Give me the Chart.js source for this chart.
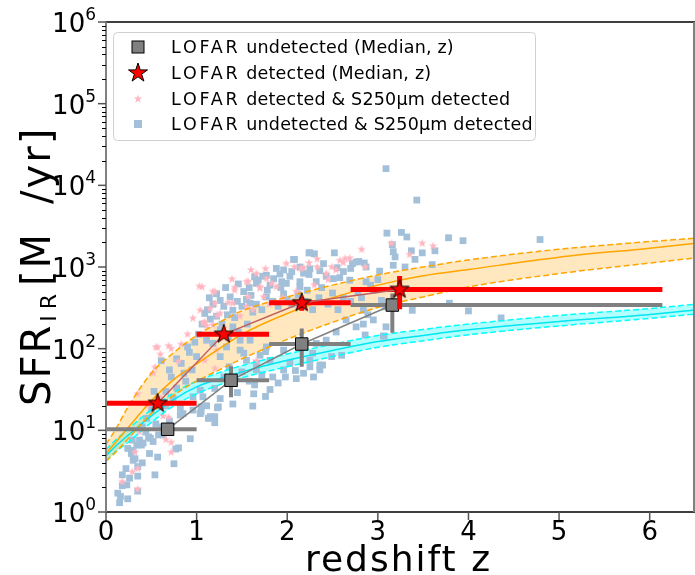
<!DOCTYPE html>
<html>
<head>
<meta charset="utf-8">
<script src="https://cdn.jsdelivr.net/npm/chart.js@4"></script>
<style>
  body { margin: 0; background: #fff; }
  canvas { display: block; }
</style>
</head>
<body>
<canvas id="sfrChart" width="695" height="575"></canvas>
<script>
// selection curves (redshift grid + SFR at each point)
const curveZ    = [0, 0.1, 0.25, 0.5, 0.75, 1, 1.25, 1.5, 2, 2.5, 3, 3.5, 4, 5, 6, 6.5];
const orangeHi  = [6.8, 10, 20, 50, 90, 145, 210, 290, 430, 600, 800, 1000, 1220, 1650, 2050, 2250];
const orangeMid = [5.2, 7, 11, 23, 42, 65, 100, 150, 270, 420, 600, 780, 930, 1320, 1700, 1950];
const orangeLo  = [4.2, 5.3, 8, 16, 27, 40, 55, 75, 130, 210, 320, 430, 570, 830, 1120, 1290];
const cyanHi    = [5.8, 7.5, 10.5, 18, 29, 40, 51, 62, 86, 113, 145, 172, 200, 255, 310, 350];
const cyanMid   = [4.9, 6.3, 8.8, 15, 24, 34, 43, 52, 72, 95, 122, 145, 170, 215, 262, 298];
const cyanLo    = [4.2, 5.4, 7.2, 12.5, 20, 28, 36, 44, 60, 80, 104, 125, 148, 190, 235, 265];

// medians in redshift bins
const undetZ      = [0.68, 1.38, 2.16, 3.16];
const undetSFR    = [10.3, 41, 114, 342];
const undetZLo    = [0, 1.0, 1.8, 2.7];
const undetZHi    = [1.0, 1.8, 2.7, 6.14];
const undetSFRLo  = [9.2, 25.4, 60, 157];
const undetSFRHi  = [11.5, 61, 177, 475];

const detZ      = [0.57, 1.30, 2.16, 3.24];
const detSFR    = [21.4, 150, 365, 532];
const detZLo    = [0, 1.0, 1.8, 2.7];
const detZHi    = [1.0, 1.8, 2.7, 6.14];
const detSFRLo  = [19.5, 135, 291, 303];
const detSFRHi  = [23.5, 168, 425, 774];

// individual sources [z, SFR]
const undetS250 = [
  [0.15,1.3],[0.16,1.55],[0.24,1.45],[0.13,1.7],[0.18,2.1],[0.23,2.15],[0.18,2.85],[0.26,2.6],[0.35,2.75],[0.35,1.8],
  [0.54,2.85],[0.30,4.3],[0.35,3.6],[0.22,3.4],[0.40,4.0],[0.48,5.2],[0.29,7.6],[0.34,6.6],[0.39,6.6],[0.30,5.7],
  [0.24,6.0],[0.28,5.2],[0.32,4.5],[0.57,4.7],[0.75,3.9],[0.77,5.9],[0.80,6.1],[0.93,7.9],[0.37,7.6],[0.41,7.0],
  [0.49,8.0],[0.52,7.3],[0.47,8.3],[0.58,8.8],[0.63,8.8],[0.44,9.5],[0.55,12],[0.62,11],[0.70,13],[0.85,16],
  [0.82,18.6],[0.82,15.4],[0.96,17.7],[1.05,19.4],[1.05,16.8],[1.04,16],[1.11,20],[1.13,14],[1.15,14.7],[1.20,12.4],
  [1.20,14.7],[1.23,18.9],[1.24,19.4],[1.26,24.5],[1.40,21],[1.45,29],[1.62,19.8],[1.63,28],[1.76,26],[1.81,31.6],
  [0.96,25.7],[1.04,31],[1.07,25.7],[1.20,32.6],[0.78,33],[0.61,71],[0.83,66],[0.90,105],[0.72,45],[0.66,30],
  [0.88,40],[0.95,55],[1.0,80],[0.45,14],[0.50,18],[0.58,22],[0.66,20],[0.74,25],[0.40,11],[0.53,30],
  [0.70,55],[0.78,75],[0.86,50],[0.92,90],[0.98,120],[1.02,150],[1.06,200],
  [1.09,270],[1.15,230],[1.26,390],[1.30,330],[1.37,430],[1.45,380],[1.52,500],[1.60,450],[1.68,690],[1.77,790],
  [1.85,720],[1.96,920],[2.05,880],[2.14,1000],[2.25,950],[2.40,1100],[2.55,980],[2.87,1000],[3.17,1050],
  [1.40,295],[1.59,360],[1.77,430],[1.96,470],[2.14,570],[2.32,660],[2.51,720],[2.69,690],[2.87,660],[2.95,520],
  [3.04,390],[3.08,325],[2.84,295],[2.89,260],[2.65,225],[2.76,185],[2.95,225],[3.09,185],[2.43,127],[2.54,160],
  [2.32,116],[1.96,96],[1.77,105],[1.70,83],[1.81,72],[2.03,66],[2.25,60],[2.36,55],[1.96,55],[1.59,127],
  [1.48,96],[1.40,185],[1.26,170],[1.18,116],[1.11,127],[1.33,105],[1.55,72],[1.66,55],[1.84,45],[2.10,43],
  [2.29,45],[2.36,63],[2.49,80],[1.66,66],[1.52,88],[1.48,127],[1.76,92],[2.09,54],[2.18,50],[2.25,72],
  [2.39,63],[2.28,88],[2.60,83],[2.84,200],[2.86,147],[3.07,142],
  [1.66,630],[1.73,770],[1.88,960],[2.07,1240],[2.24,1490],[2.30,1450],[2.52,1490],[2.24,810],[2.43,770],[2.58,740],
  [2.72,1100],[2.79,1170],[2.85,1120],[2.70,960],[3.02,890],[2.03,770],[2.14,660],[1.81,600],[1.94,660],[1.99,630],
  [2.08,1240],[2.25,1490],[2.76,1150],
  [1.12,300],[1.18,350],[1.22,250],[1.28,200],[1.34,260],[1.42,240],[1.50,330],[1.55,400],[1.62,280],[1.66,350],
  [1.72,300],[1.78,520],[1.84,380],[1.90,330],[1.93,560],[2.00,400],[2.05,350],[2.12,460],[2.20,380],[2.22,520],
  [2.28,300],[2.35,420],[2.38,560],[2.45,350],[2.50,480],[2.56,300],[2.62,420],[2.70,380],[2.78,500],[2.82,420],
  [2.92,600],[3.00,700],
  [1.30,45],[1.36,60],[1.42,38],[1.50,52],[1.58,40],[1.64,36],[1.72,48],[1.90,38],[1.98,45],[1.26,80],
  [1.35,140],[1.46,160],[1.56,200],
  [1.14,420],[1.22,470],[1.32,560],[1.46,620],[1.58,560],[1.64,760],[1.92,820],[2.18,840],[2.36,900],[2.62,880],
  [3.09,16000],[3.43,6600],[3.10,2600],[3.26,2650],[3.32,2330],[3.78,2280],[3.94,2100],[4.79,2170],[3.16,1880],[3.17,1540],
  [3.37,1580],[3.49,1490],[3.63,1580],[3.41,1240],[3.30,1000],[3.60,1070],[3.19,1330],[3.79,360],[4.0,290],[4.36,238],
  [3.38,295],[3.06,143]
];

const detS250 = [
  [0.18,2.35],[0.29,3.1],[0.35,3.4],[0.35,1.9],[0.32,5.4],[0.72,5.4],[0.72,7.1],[0.66,7.7],[0.37,9.6],[0.63,15],
  [0.69,14.4],[0.35,28],[0.52,50],[0.54,59],[0.60,85],[0.57,104],[0.69,108],[0.83,113],[0.72,100],[0.55,104],
  [1.20,57],[1.66,71],[1.11,190],[1.03,580],[1.20,500],[1.39,710],[1.42,520],[1.60,920],[1.76,950],[1.35,365],
  [1.57,430],[1.70,550],[1.74,430],[1.83,630],[1.88,570],[1.20,360],[1.04,295],[1.09,212],[0.96,235],[1.23,255],
  [1.40,360],[1.18,195],[1.55,325],[1.99,1100],[2.18,980],[2.33,1250],[2.24,1120],[2.33,1000],[2.49,1000],[2.64,1270],
  [2.62,1130],[2.82,1640],[2.86,1000],[3.15,1950],[3.49,1950],[3.61,1800],[3.35,1420],[2.15,960],[2.08,1000],[2.43,830],
  [2.54,920],[1.77,720],[1.57,660],[1.66,830],[1.06,570],[1.18,500],[1.26,270],[1.15,310],[1.07,205],[1.09,72],
  [1.22,96],[2.69,1280],[2.58,1200],[1.42,560],[1.55,660],[1.70,570],[1.30,180],[1.48,250],[1.62,300],[1.80,350],
  [1.95,420],[2.10,500],[2.30,600],[2.45,700],[0.90,150],[0.80,70],[0.45,20],[0.60,25]
];

const xTicks = [0, 1, 2, 3, 4, 5, 6];
const yDecades = [0, 1, 2, 3, 4, 5, 6];

const legendLabels = [
  'LOFAR undetected (Median, z)',
  'LOFAR detected (Median, z)',
  'LOFAR detected & S250\u00b5m detected',
  'LOFAR undetected & S250\u00b5m detected'
];

const FONT = '"DejaVu Sans", sans-serif';

// filled 5-point star used as a point style
function makeStar(r, fill, stroke, lw) {
  const size = Math.ceil(2 * r + 2 * lw + 2);
  const c = document.createElement('canvas');
  c.width = c.height = size;
  const g = c.getContext('2d');
  g.translate(size / 2, size / 2);
  g.beginPath();
  for (let i = 0; i < 10; i++) {
    const rad = i % 2 === 0 ? r : r * 0.382;
    const a = -Math.PI / 2 + i * Math.PI / 5;
    g.lineTo(rad * Math.cos(a), rad * Math.sin(a));
  }
  g.closePath();
  g.fillStyle = fill;
  g.fill();
  if (stroke) {
    g.lineWidth = lw;
    g.strokeStyle = stroke;
    g.stroke();
  }
  return c;
}

const redStar = makeStar(10, '#ff0000', '#000000', 1);
const pinkStar = makeStar(4.6, '#ffb6c1', null, 0);

const pairs = (xs, ys) => xs.map((x, i) => ({ x: x, y: ys[i] }));
const points = arr => arr.map(p => ({ x: p[0], y: p[1] }));

function curve(ys, color, dashed, fillTarget, fillColor, order) {
  return {
    type: 'line',
    data: pairs(curveZ, ys),
    borderColor: color,
    borderWidth: 1.5,
    borderDash: dashed ? [6, 3] : [],
    pointRadius: 0,
    cubicInterpolationMode: 'monotone',
    fill: fillTarget,
    backgroundColor: fillColor || 'transparent',
    order: order
  };
}

// error bars drawn just before the median markers
const errorBarPlugin = {
  id: 'errorBars',
  beforeDatasetDraw(chart, args) {
    const ds = chart.data.datasets[args.index];
    if (!ds.errBars) return;
    const xs = chart.scales.x, ys = chart.scales.y, ctx = chart.ctx;
    const e = ds.errBars;
    ctx.save();
    ctx.strokeStyle = e.color;
    ctx.lineWidth = e.width;
    ctx.lineCap = 'butt';
    ds.data.forEach((p, i) => {
      const px = xs.getPixelForValue(p.x), py = ys.getPixelForValue(p.y);
      ctx.beginPath();
      ctx.moveTo(xs.getPixelForValue(e.xLo[i]), py);
      ctx.lineTo(xs.getPixelForValue(e.xHi[i]), py);
      ctx.moveTo(px, ys.getPixelForValue(e.yLo[i]));
      ctx.lineTo(px, ys.getPixelForValue(e.yHi[i]));
      ctx.stroke();
    });
    ctx.restore();
  }
};

// frame, ticks, axis titles and legend
const decorPlugin = {
  id: 'decor',
  afterDraw(chart) {
    const ctx = chart.ctx, a = chart.chartArea;
    const xs = chart.scales.x, ys = chart.scales.y;
    ctx.save();

    // frame
    ctx.lineWidth = 1.5;
    ctx.strokeStyle = '#000';
    ctx.beginPath();
    ctx.moveTo(a.left, a.top); ctx.lineTo(a.right, a.top);
    ctx.moveTo(a.left, a.bottom); ctx.lineTo(a.right, a.bottom);
    ctx.stroke();
    ctx.lineWidth = 2;
    ctx.strokeStyle = '#808080';
    ctx.beginPath();
    ctx.moveTo(a.left, a.top); ctx.lineTo(a.left, a.bottom);
    ctx.moveTo(a.right - 1, a.top); ctx.lineTo(a.right - 1, a.bottom);
    ctx.stroke();

    // x ticks + labels
    ctx.fillStyle = '#000';
    ctx.font = '26px ' + FONT;
    ctx.textAlign = 'center';
    ctx.textBaseline = 'top';
    xTicks.forEach(t => {
      const px = xs.getPixelForValue(t);
      ctx.strokeStyle = '#555';
      ctx.lineWidth = 1.5;
      ctx.beginPath();
      ctx.moveTo(px, a.bottom); ctx.lineTo(px, a.bottom + 8);
      ctx.stroke();
      ctx.fillText(String(t), px, a.bottom + 8);
    });

    // y ticks (major + minor) + labels 10^n
    yDecades.forEach(d => {
      const py = ys.getPixelForValue(Math.pow(10, d));
      ctx.strokeStyle = '#555';
      ctx.lineWidth = 1.5;
      ctx.beginPath();
      ctx.moveTo(a.left, py); ctx.lineTo(a.left - 8, py);
      ctx.stroke();
      if (d < 6) {
        ctx.strokeStyle = '#000';
        ctx.lineWidth = 1;
        for (let k = 2; k <= 9; k++) {
          const my = Math.round(ys.getPixelForValue(k * Math.pow(10, d))) + 0.5;
          ctx.beginPath();
          ctx.moveTo(a.left, my); ctx.lineTo(a.left - 4, my);
          ctx.stroke();
        }
      }
      ctx.font = '17px ' + FONT;
      const ew = ctx.measureText(String(d)).width;
      ctx.textAlign = 'left';
      ctx.textBaseline = 'alphabetic';
      ctx.fillText(String(d), a.left - 10 - ew, py - 2);
      ctx.font = '26px ' + FONT;
      ctx.textAlign = 'right';
      ctx.fillText('10', a.left - 10 - ew, py + 10);
    });

    // x title
    ctx.font = '36px ' + FONT;
    ctx.letterSpacing = '2px';
    ctx.textAlign = 'center';
    ctx.textBaseline = 'alphabetic';
    ctx.fillText('redshift z', (a.left + a.right) / 2 - 2, 571);

    // y title with subscript, reads bottom to top
    ctx.save();
    ctx.translate(50, 406);
    ctx.rotate(-Math.PI / 2);
    ctx.textAlign = 'left';
    ctx.font = '40px ' + FONT;
    ctx.letterSpacing = '2px';
    let cx = 0;
    ctx.fillText('SFR', cx, 0);
    cx += ctx.measureText('SFR').width + 2;
    ctx.font = '22px ' + FONT;
    ctx.letterSpacing = '6px';
    ctx.fillText('IR', cx, 6);
    cx += ctx.measureText('IR').width + 2;
    ctx.font = '40px ' + FONT;
    ctx.letterSpacing = '2px';
    ctx.fillText('[M', cx, 0);
    cx += ctx.measureText('[M').width + 28;
    ctx.fillText('/yr]', cx, 0);
    ctx.restore();

    // legend
    const lx = 113, ly = 32, lw = 422, lh = 108;
    ctx.letterSpacing = '0px';
    ctx.fillStyle = 'rgba(255,255,255,0.85)';
    ctx.strokeStyle = '#d0d0d0';
    ctx.lineWidth = 1;
    ctx.beginPath();
    ctx.roundRect(lx + 0.5, ly + 0.5, lw, lh, 4);
    ctx.fill();
    ctx.stroke();

    const rows = [47, 73, 99, 124];
    const mx = 138;
    ctx.fillStyle = '#808080';
    ctx.strokeStyle = '#000';
    ctx.fillRect(mx - 6, rows[0] - 6, 12, 12);
    ctx.strokeRect(mx - 6, rows[0] - 6, 12, 12);
    ctx.drawImage(redStar, mx - redStar.width / 2, rows[1] - redStar.height / 2);
    ctx.drawImage(pinkStar, mx - pinkStar.width / 2, rows[2] - pinkStar.height / 2);
    ctx.fillStyle = '#a2c0d9';
    ctx.fillRect(mx - 4, rows[3] - 4, 8, 8);

    ctx.fillStyle = '#000';
    ctx.font = '17.5px ' + FONT;
    ctx.textAlign = 'left';
    ctx.textBaseline = 'middle';
    legendLabels.forEach((t, i) => {
      ctx.letterSpacing = '2.8px';
      ctx.fillText('LOFAR', 171, rows[i] + 1);
      const w = ctx.measureText('LOFAR').width;
      ctx.letterSpacing = '0.2px';
      ctx.fillText(t.slice(5), 171 + w, rows[i] + 1);
    });
    ctx.restore();
  }
};

const ctx = document.getElementById('sfrChart').getContext('2d');
new Chart(ctx, {
  type: 'scatter',
  data: {
    datasets: [
      curve(orangeHi, '#ffa500', true, '+2', 'rgba(255,165,0,0.25)', 4),
      curve(orangeMid, '#ffa500', false, false, null, 4),
      curve(orangeLo, '#ffa500', true, false, null, 4),
      curve(cyanHi, '#00ffff', true, '+2', 'rgba(0,255,255,0.3)', 5),
      curve(cyanMid, '#00e5ee', false, false, null, 5),
      curve(cyanLo, '#00ffff', true, false, null, 5),
      {
        data: points(undetS250),
        pointStyle: 'rect',
        pointRadius: 4.8,
        pointBackgroundColor: '#a2c0d9',
        pointBorderWidth: 0,
        order: 7
      },
      {
        data: points(detS250),
        pointStyle: pinkStar,
        order: 6
      },
      {
        type: 'line',
        data: pairs(undetZ, undetSFR),
        borderColor: '#808080',
        borderWidth: 1.5,
        pointStyle: 'rect',
        pointRadius: 8.8,
        pointBackgroundColor: '#808080',
        pointBorderColor: '#000',
        pointBorderWidth: 1,
        fill: false,
        errBars: { xLo: undetZLo, xHi: undetZHi, yLo: undetSFRLo, yHi: undetSFRHi, color: '#808080', width: 4 },
        order: 1
      },
      {
        type: 'line',
        data: pairs(detZ, detSFR),
        borderColor: '#bf5f5f',
        borderWidth: 1.5,
        pointStyle: redStar,
        fill: false,
        errBars: { xLo: detZLo, xHi: detZHi, yLo: detSFRLo, yHi: detSFRHi, color: '#ff0000', width: 5 },
        order: 0
      }
    ]
  },
  options: {
    responsive: false,
    animation: false,
    layout: { autoPadding: false, padding: { left: 106, top: 22, right: 0, bottom: 63 } },
    scales: {
      x: { type: 'linear', min: 0, max: 6.5, display: false },
      y: { type: 'logarithmic', min: 1, max: 1e6, display: false }
    },
    plugins: {
      legend: { display: false },
      tooltip: { enabled: false },
      filler: { drawTime: 'beforeDatasetsDraw' }
    }
  },
  plugins: [errorBarPlugin, decorPlugin]
});
</script>
</body>
</html>
